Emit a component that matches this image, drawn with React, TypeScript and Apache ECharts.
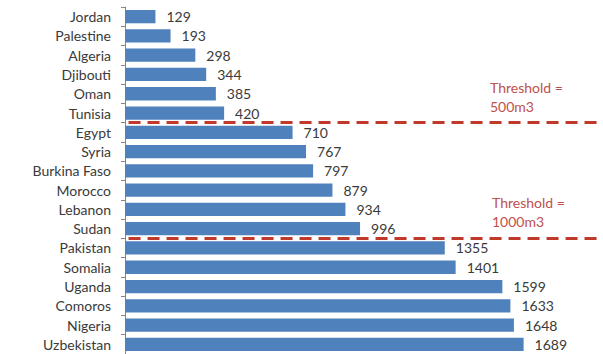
import React, { useEffect, useRef } from "react";
import * as echarts from "echarts";

const countries = [
  "Jordan", "Palestine", "Algeria", "Djibouti", "Oman", "Tunisia",
  "Egypt", "Syria", "Burkina Faso", "Morocco", "Lebanon", "Sudan",
  "Pakistan", "Somalia", "Uganda", "Comoros", "Nigeria", "Uzbekistan",
];
const waterPerCapita = [
  129, 193, 298, 344, 385, 420,
  710, 767, 797, 879, 934, 996,
  1355, 1401, 1599, 1633, 1648, 1689,
];
// thresholds drawn as boundaries after the n-th row
const thresholdRows = [6, 12];
const thresholdLabels = [["Threshold =", "500m3"], ["Threshold =", "1000m3"]];

const FONT = "Lato";
const RED = "#c0392b";
const RED_TEXT = "#c0504d";

export default function App() {
  const ref = useRef<HTMLDivElement>(null);
  useEffect(() => {
    if (!ref.current) return;
    const chart = echarts.init(ref.current, undefined, { renderer: "svg" });
    chart.setOption({
      animation: false,
      backgroundColor: "#ffffff",
      grid: { left: 125, right: 6, top: 7, bottom: 0, containLabel: false },
      xAxis: [
        { type: "value", min: 0, max: 2000, show: false, splitLine: { show: false } },
      ],
      yAxis: [
        {
          type: "category",
          data: countries,
          inverse: true,
          axisLine: { show: true, lineStyle: { color: "#868686", width: 1 } },
          axisTick: { show: true, length: 4, lineStyle: { color: "#868686" } },
          axisLabel: { color: "#3a3a3a", fontFamily: FONT, fontSize: 14, margin: 14 },
        },
        { type: "value", min: 0, max: 18, inverse: true, show: false },
      ],
      series: [
        {
          type: "bar",
          data: waterPerCapita,
          barCategoryGap: "31%",
          itemStyle: { color: "#4f81bd" },
          label: {
            show: true,
            position: "right",
            distance: 11,
            color: "#3a3a3a",
            fontFamily: FONT,
            fontSize: 14,
          },
        },
        {
          type: "line",
          yAxisIndex: 1,
          data: [],
          markLine: {
            silent: true,
            symbol: "none",
            label: { show: false },
            lineStyle: { color: RED, type: [12, 7], width: 3 },
            data: thresholdRows.map((r) => [{ coord: [15, r] }, { coord: [2000, r] }]),
          },
        },
      ],
      graphic: [
        {
          type: "text",
          left: 490,
          top: 78,
          style: {
            text: thresholdLabels[0].join("\n"),
            fill: RED_TEXT,
            font: `14px ${FONT}`,
            lineHeight: 19,
          },
        },
        {
          type: "text",
          left: 492,
          top: 193,
          style: {
            text: thresholdLabels[1].join("\n"),
            fill: RED_TEXT,
            font: `14px ${FONT}`,
            lineHeight: 19,
          },
        },
      ],
    });
    return () => chart.dispose();
  }, []);
  return (
    <div
      ref={ref}
      style={{ position: "fixed", left: 0, top: 0, width: 603, height: 354 }}
    />
  );
}
